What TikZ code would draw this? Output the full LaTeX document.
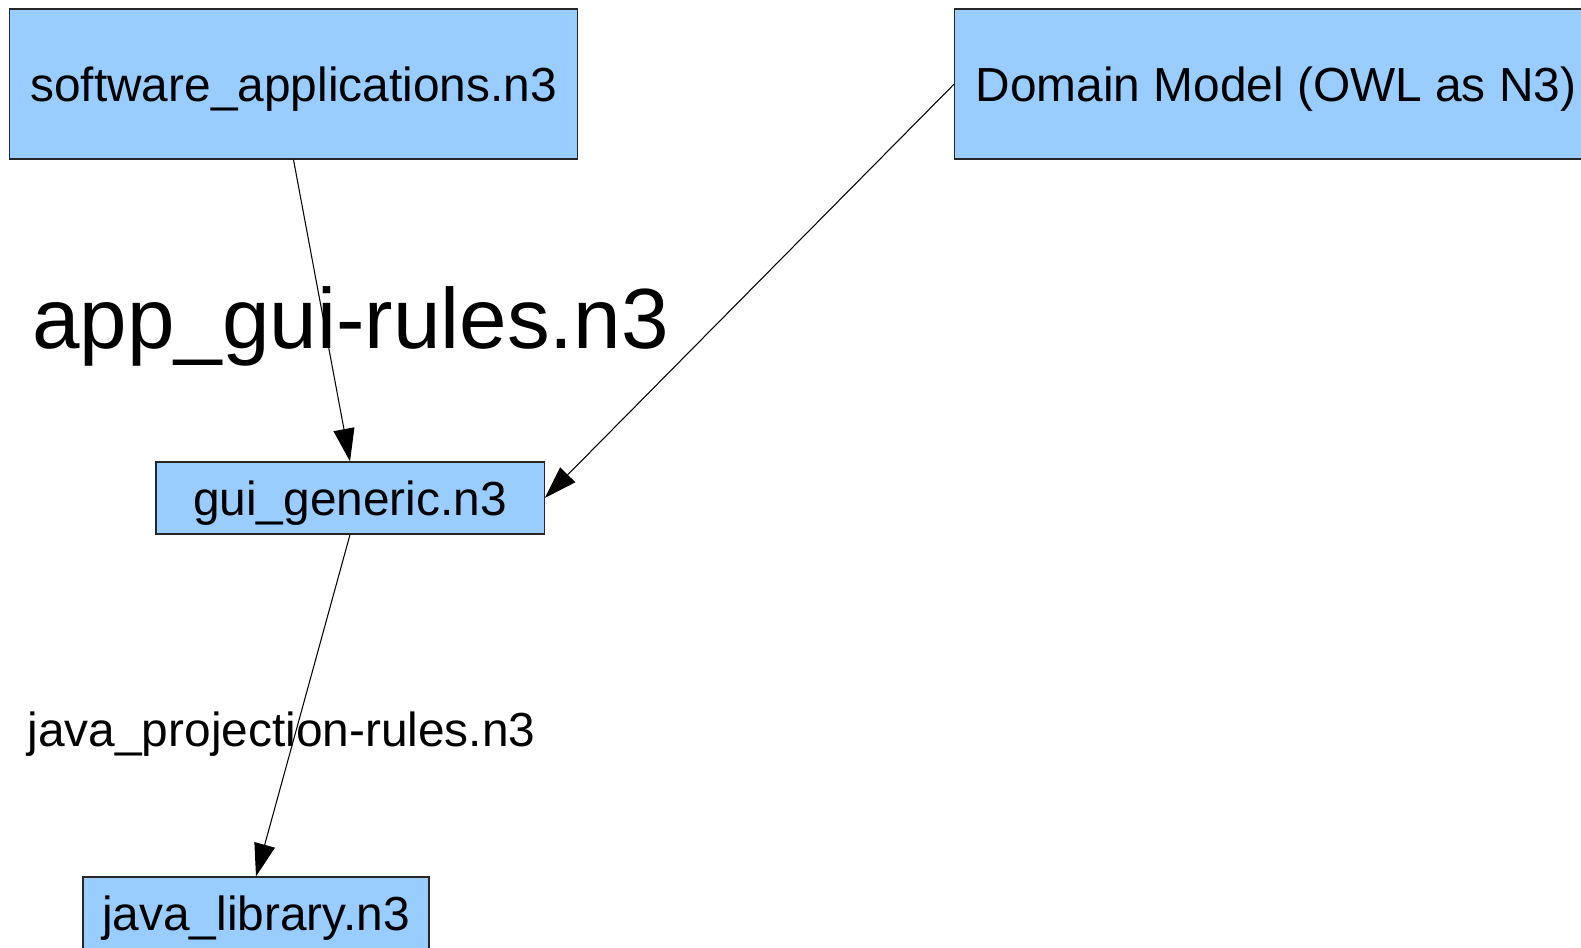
\documentclass[tikz,border=0pt]{standalone}
\usepackage{fontspec}
\setmainfont{Liberation Sans}
\usepackage{tikz}
\usetikzlibrary{arrows.meta,positioning}
\definecolor{filebox}{HTML}{99CCFF}
\tikzstyle{file}=[rectangle,draw=black!85,line width=0.35pt,fill=filebox,inner sep=0pt,text depth=0pt,font=\fontsize{13.6}{16}\selectfont]
\tikzstyle{rules}=[inner sep=0pt,anchor=base,font=\fontsize{13.6}{16}\selectfont]

\begin{document}
\begin{tikzpicture}[x=0.01cm,y=-0.01cm,-{Triangle[length=9.3pt,width=6pt]},line width=0.3pt]
  \useasboundingbox (0,0) rectangle (1581,947);

  \node[file,minimum width=5.67cm,minimum height=1.5cm] (sw)  at (293.5,84) {software\_applications.n3};
  \node[file,minimum width=6.42cm,minimum height=1.5cm] (dom) at (1276,84)  {Domain Model (OWL as N3)};
  \node[file,minimum width=3.88cm,minimum height=0.72cm] (gui) at (350,498)  {gui\_generic.n3};
  \node[file,minimum width=3.46cm,minimum height=0.72cm] (jl)  at (256,913)  {java\_library.n3};

  \node[rules,font=\fontsize{24.3}{29}\selectfont] (appr) at (350.5,348) {app\_gui-rules.n3};
  \node[rules] (javar) at (281.5,746) {java\_projection-rules.n3};

  \path (sw.south) edge (gui.north)
        (dom.west) edge (gui.east)
        (gui.south) edge (jl.north);
\end{tikzpicture}
\end{document}
